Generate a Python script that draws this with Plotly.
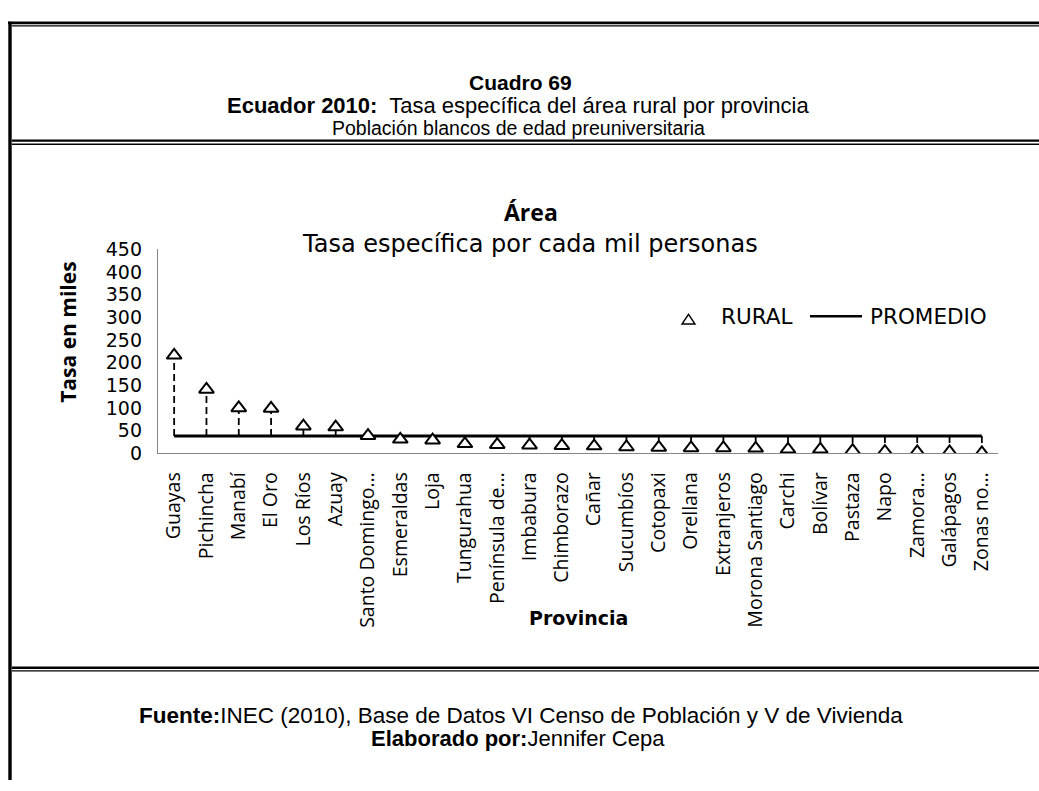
import plotly.graph_objects as go

# Tasa específica (por mil) del área rural, población blancos en edad preuniversitaria
provincias = ["Guayas", "Pichincha", "Manabí", "El Oro", "Los Ríos", "Azuay",
              "Santo Domingo…", "Esmeraldas", "Loja", "Tungurahua", "Península de…",
              "Imbabura", "Chimborazo", "Cañar", "Sucumbíos", "Cotopaxi", "Orellana",
              "Extranjeros", "Morona Santiago", "Carchi", "Bolívar", "Pastaza", "Napo",
              "Zamora…", "Galápagos", "Zonas no…"]
rural = [216, 141, 100, 99, 60, 58, 39, 31, 29, 21, 19, 18, 17, 16, 14, 13, 12,
         12, 11, 9, 9, 6, 4, 3, 3, 1]
promedio_valor = 38
y_ticks = [0, 50, 100, 150, 200, 250, 300, 350, 400, 450]

W, H = 1039, 791
WIDE_FONT = "DejaVu Sans"
LABEL_FONT = "Open Sans"
DOC_FONT = "Liberation Sans"


def px(x):
    return x / W


def py(y):
    return 1 - y / H


idx = list(range(len(provincias)))
promedio = [promedio_valor] * len(provincias)

# high-low lines between each province and the average
hl_x, hl_y = [], []
for i, v in zip(idx, rural):
    hl_x += [i, i, None]
    hl_y += [promedio_valor, v, None]

fig = go.Figure()
fig.add_trace(go.Scatter(x=hl_x, y=hl_y, mode="lines", showlegend=False,
                         line=dict(color="black", width=1.8, dash="7px,4px"),
                         hoverinfo="skip"))
fig.add_trace(go.Scatter(x=idx, y=promedio, mode="lines", name="PROMEDIO",
                         showlegend=False, line=dict(color="black", width=3)))
fig.add_trace(go.Scatter(x=idx, y=rural, mode="markers", name="RURAL",
                         showlegend=False,
                         marker=dict(symbol="triangle-up", size=13, color="white",
                                     line=dict(color="black", width=2))))

fig.update_layout(
    width=W, height=H,
    margin=dict(l=0, r=0, t=0, b=0),
    paper_bgcolor="white", plot_bgcolor="white",
    xaxis=dict(domain=[px(158), px(998)], range=[-0.5, len(provincias) - 0.5],
               tickvals=idx, ticktext=provincias, tickangle=-90,
               tickfont=dict(family=LABEL_FONT, size=19.5, color="black"),
               showline=True, linecolor="#868686", linewidth=1.3,
               showgrid=False, zeroline=False, ticks="", ticklabelstandoff=10),
    yaxis=dict(domain=[py(455), py(245)], range=[0, 450],
               tickvals=y_ticks, ticktext=[str(t) for t in y_ticks],
               tickfont=dict(family=WIDE_FONT, size=19, color="black"),
               showline=True, linecolor="#868686", linewidth=1.3,
               showgrid=False, zeroline=False, ticks="", ticklabelstandoff=11),
)

ann = []


def text(x, y, s, size, family=WIDE_FONT, angle=0):
    ann.append(dict(x=px(x), y=py(y), xref="paper", yref="paper", text=s,
                    showarrow=False, xanchor="center", yanchor="middle",
                    textangle=angle, font=dict(family=family, size=size, color="black")))


# document header
text(520, 74, "<b>Cuadro 69</b>", 21, DOC_FONT)
text(518, 97, "<b>Ecuador 2010:</b>  Tasa específica del área rural por provincia", 22, DOC_FONT)
text(518, 120, "Población blancos de edad preuniversitaria", 19.5, DOC_FONT)

# chart titles
text(531, 207, "<b>Área</b>", 23, LABEL_FONT)
text(530, 240, "Tasa específica por cada mil personas", 24)
text(68, 331, "<b>Tasa en miles</b>", 21, LABEL_FONT, angle=-90)
text(578, 624, "<b>Provincia</b>", 19)

# legend
text(756.5, 314, "RURAL", 21.5)
text(928, 314, "PROMEDIO", 21.5)

# document footer
text(521, 725, "<b>Fuente:</b>INEC (2010), Base de Datos VI Censo de Población y V de Vivienda", 22.5, DOC_FONT)
text(518, 748, "<b>Elaborado por:</b>Jennifer Cepa", 22, DOC_FONT)

fig.update_layout(annotations=ann)


def hline(y, x0, x1, w):
    fig.add_shape(type="line", xref="paper", yref="paper", x0=px(x0), x1=px(x1),
                  y0=py(y), y1=py(y), line=dict(color="black", width=w))


def vline(x, y0, y1, w):
    fig.add_shape(type="line", xref="paper", yref="paper", x0=px(x), x1=px(x),
                  y0=py(y0), y1=py(y1), line=dict(color="black", width=w))


# table borders
hline(12.2, 8, W, 2.6)
hline(15.3, 12, W, 1.2)
vline(10, 11, H, 3.4)
hline(133.3, 12, W, 2.4)
hline(137, 12, W, 1.6)
hline(675.5, 12, W, 2.4)
hline(678.8, 12, W, 1.4)

# legend symbols
fig.add_shape(type="path", xref="paper", yref="paper",
              path=f"M {px(682)} {py(322)} L {px(695)} {py(322)} L {px(688.5)} {py(312)} Z",
              line=dict(color="black", width=1.4), fillcolor="white")
hline(314, 810, 862, 2.6)

fig.write_html("out.html")
